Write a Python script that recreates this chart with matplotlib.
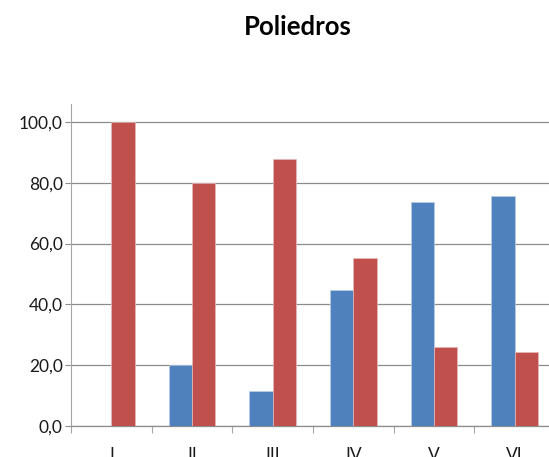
import numpy as np
import matplotlib.pyplot as plt
from matplotlib.ticker import FuncFormatter

categorias = ['I', 'II', 'III', 'IV', 'V', 'VI']
serie_azul = [0.0, 20.0, 11.6, 44.6, 73.8, 75.5]
serie_roja = [100.0, 79.8, 87.9, 55.2, 26.0, 24.2]
ticks_y = [0, 20, 40, 60, 80, 100]

plt.rcParams['font.family'] = ['Lato', 'DejaVu Sans']

fig = plt.figure(figsize=(5.49, 4.57), dpi=100)
ax = fig.add_axes([71 / 549, 31 / 457, 484 / 549, 322 / 457])

x = np.arange(len(categorias))
w = 0.29
ax.bar(x - w / 2, serie_azul, w, color='#4F81BD', edgecolor='#b9cde5', linewidth=0.5, zorder=3)
ax.bar(x + w / 2, serie_roja, w, color='#C0504D', edgecolor='#e6b9b8', linewidth=0.5, zorder=3)

ax.set_xlim(-0.5, len(categorias) - 0.5)
ax.set_ylim(0, 105.9)

# eje y
ax.set_yticks(ticks_y)
ax.yaxis.set_major_formatter(FuncFormatter(lambda v, p: f'{v:.1f}'.replace('.', ',')))
ax.yaxis.grid(True, color='#8c8c8c', linewidth=0.9, zorder=0)
ax.tick_params(axis='y', length=4.5, width=0.8, color='#8c8c8c', pad=1.5,
               labelsize=12.5, labelcolor='#1a1a1a')

# eje x: etiquetas en el centro, marcas en los limites
ax.set_xticks(x)
ax.set_xticklabels(categorias)
ax.set_xticks(np.arange(len(categorias) + 1) - 0.5, minor=True)
ax.tick_params(axis='x', which='major', length=0, pad=15, labelsize=12.5, labelcolor='#1a1a1a')
ax.tick_params(axis='x', which='minor', length=5, width=0.8, color='#a6a6a6')

for s in ['top', 'right']:
    ax.spines[s].set_visible(False)
ax.spines['left'].set_color('#a6a6a6')
ax.spines['bottom'].set_color('#8c8c8c')
ax.spines['left'].set_linewidth(0.8)
ax.spines['bottom'].set_linewidth(0.9)

fig.text(297.5 / 549, 1 - 27 / 457, 'Poliedros', ha='center', va='center',
         fontsize=18.5, fontweight='bold')

fig.savefig('out.png', dpi=100)
